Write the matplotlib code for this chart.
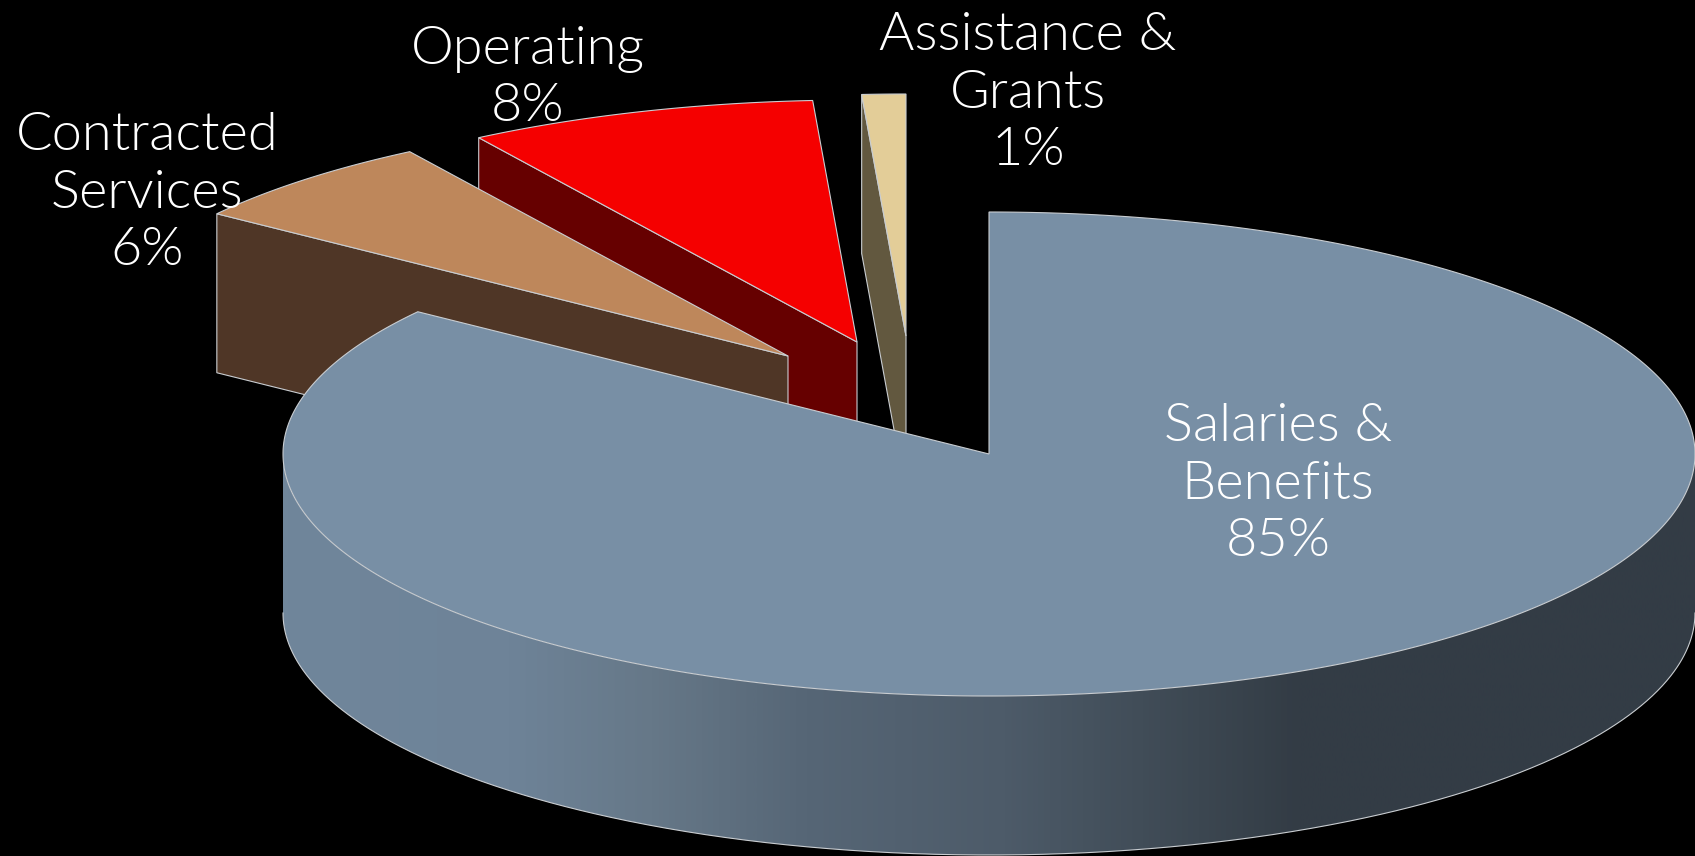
import numpy as np
import matplotlib
matplotlib.use("Agg")
import matplotlib.pyplot as plt
from matplotlib.patches import Polygon
from matplotlib.colors import LinearSegmentedColormap

# Budget shares, clockwise from twelve o'clock
categories = ["Salaries &\nBenefits", "Contracted\nServices", "Operating", "Assistance &\nGrants"]
shares = [85, 6, 8, 1]

# Styling per slice
top_colors = ["#788FA5", "#BE875B", "#F50000", "#E3CD98"]
side_colors = [None, "#4F3626", "#660000", "#62583F"]
apexes = [(989, 454), (788, 356), (857, 342), (906, 336)]
label_xy = [(1278, 484), (147, 193), (528, 78), (1028, 93)]

RX, RY, DEPTH = 706, 242, 159
EDGE = "#C9CDD1"

plt.rcParams["font.family"] = ["Lato", "DejaVu Sans"]
fig = plt.figure(figsize=(16.95, 8.56), dpi=100, facecolor="black")
ax = fig.add_axes([0, 0, 1, 1])

# Slice boundaries as clockwise angles measured from the top
bounds = np.radians(np.cumsum([0] + shares) * 3.6)


def rim(apex, a0, a1, n=200):
    t = np.linspace(a0, a1, n)
    return np.column_stack([apex[0] + RX * np.sin(t), apex[1] - RY * np.cos(t)])


# Exploded small slices, furthest first, so nearer ones cover them
for i in (3, 2, 1):
    apex = apexes[i]
    arc = rim(apex, bounds[i], bounds[i + 1])
    c = arc[0]
    side = [c, apex, (apex[0], apex[1] + DEPTH), (c[0], c[1] + DEPTH)]
    ax.add_patch(Polygon(side, closed=True, facecolor=side_colors[i], edgecolor=EDGE, linewidth=0.8, zorder=i * -2))
    top = np.vstack([[apex], arc])
    ax.add_patch(Polygon(top, closed=True, facecolor=top_colors[i], edgecolor=EDGE, linewidth=0.8, zorder=i * -2 + 1))

# Outer wall of the large slice: a horizontal gradient clipped to the wall outline
apex = apexes[0]
shade = LinearSegmentedColormap.from_list(
    "wall",
    [(0.0, "#70869B"), (0.16, "#6E8398"), (0.26, "#667888"), (0.37, "#566676"),
     (0.51, "#4D5B69"), (0.65, "#3C4751"), (0.72, "#333C45"), (1.0, "#333C46")],
)
front = rim(apex, np.pi / 2, 3 * np.pi / 2, 720)
wall_outline = np.vstack([front, (front + [0, DEPTH])[::-1]])
wall_patch = Polygon(wall_outline, closed=True, facecolor="none", edgecolor="none", zorder=2)
ax.add_patch(wall_patch)
wall_img = ax.imshow(
    np.linspace(0, 1, 1024).reshape(1, -1),
    cmap=shade, vmin=0, vmax=1, aspect="auto", interpolation="bilinear",
    extent=(front[:, 0].min(), front[:, 0].max(), apex[1] + RY + DEPTH, apex[1] - RY), zorder=2,
)
wall_img.set_clip_path(wall_patch)
ax.plot(front[:, 0], front[:, 1] + DEPTH, color=EDGE, lw=0.8, zorder=3)

# Top face of the large slice
top = np.vstack([[apex], rim(apex, bounds[0], bounds[1], 600)])
ax.add_patch(Polygon(top, closed=True, facecolor=top_colors[0], edgecolor=EDGE, linewidth=0.8, zorder=4))

# Labels
for name, share, (x, y) in zip(categories, shares, label_xy):
    ax.text(x, y, f"{name}\n{share}%", color="white", fontsize=39, fontweight=300,
            ha="center", va="center", linespacing=1.27, zorder=6)

ax.set_xlim(0, 1695)
ax.set_ylim(856, 0)
ax.axis("off")

fig.savefig("out.png", dpi=100, facecolor="black")
